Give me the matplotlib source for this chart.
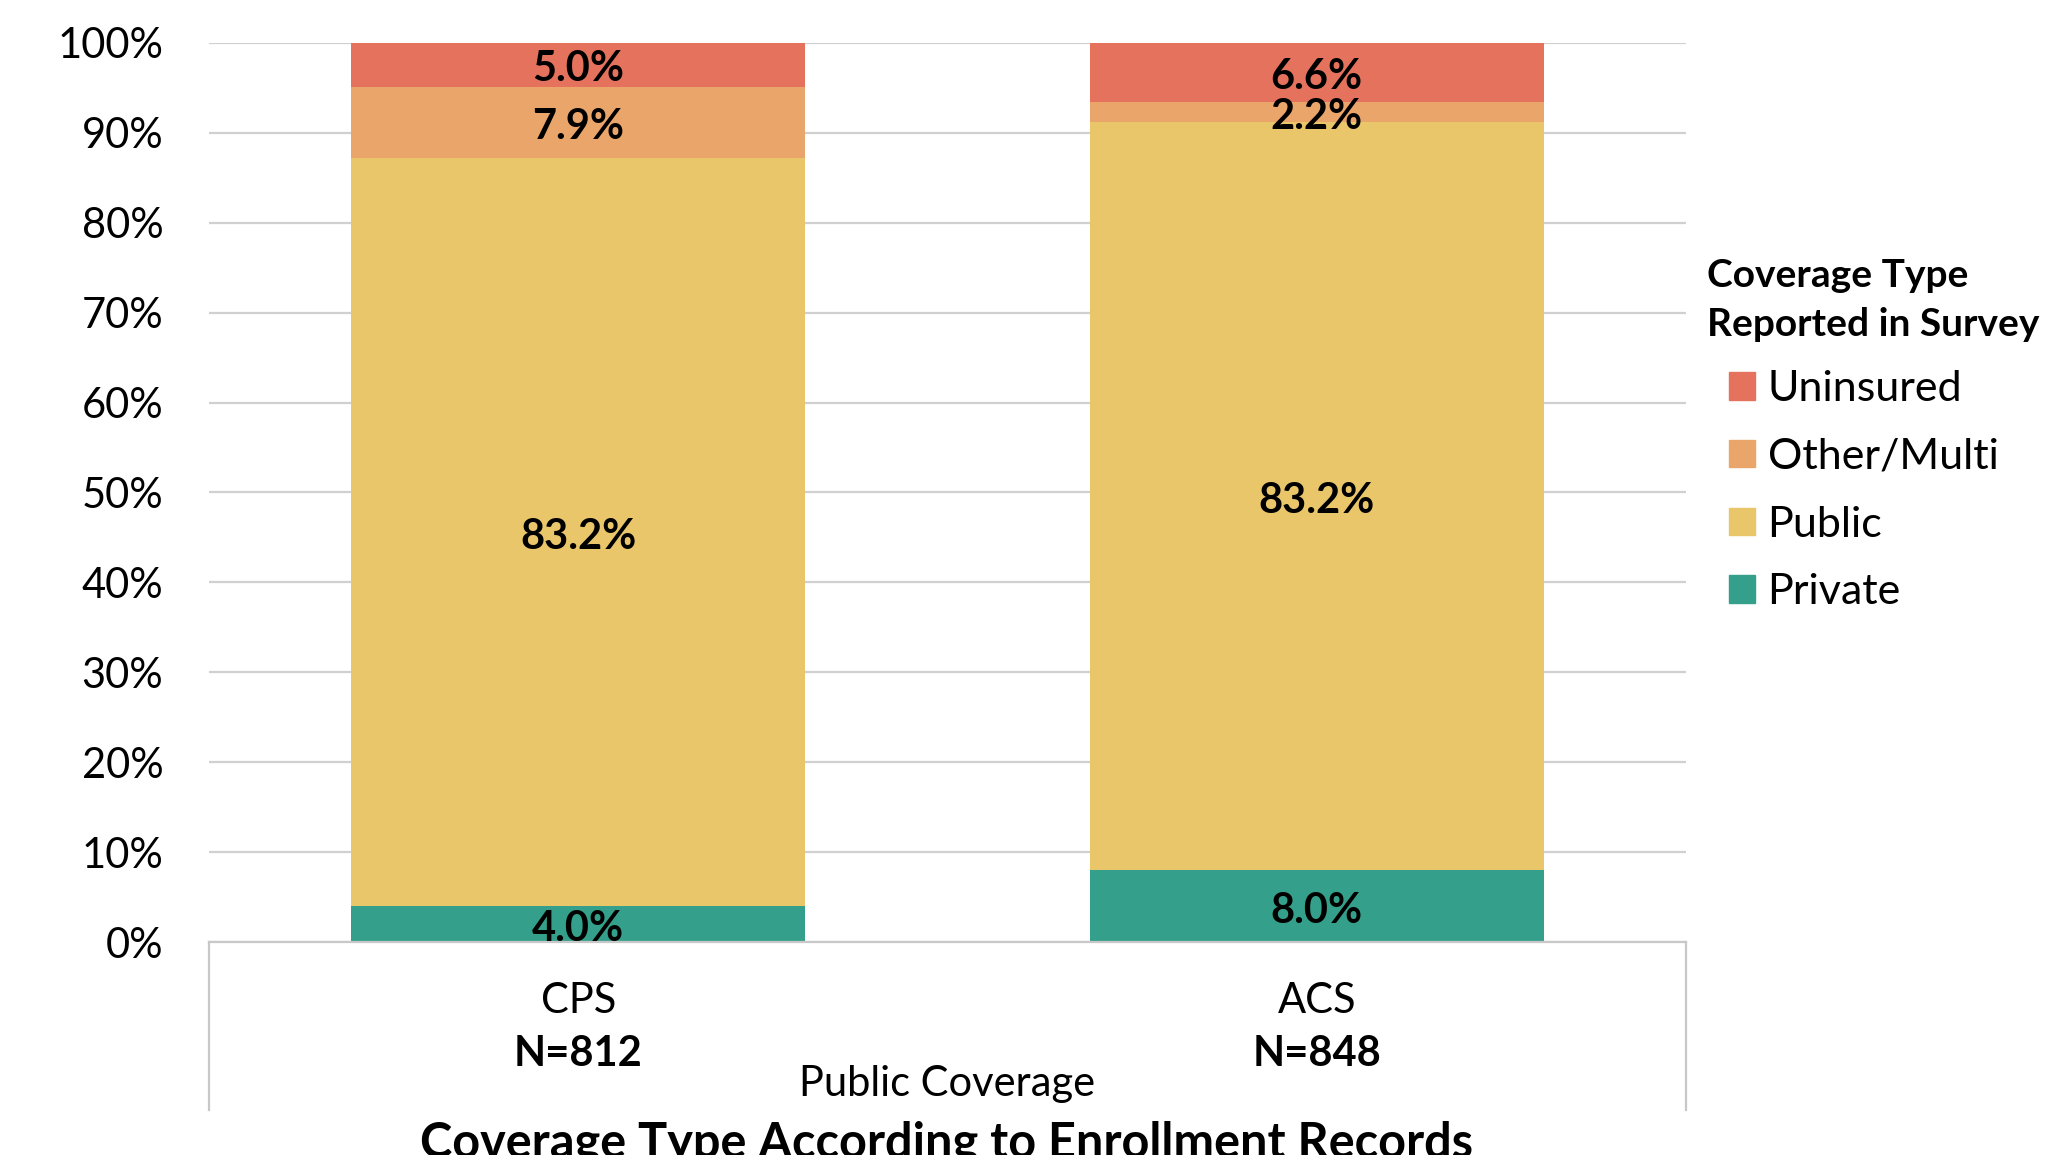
import numpy as np
import matplotlib
matplotlib.use('Agg')
import matplotlib.pyplot as plt
from matplotlib.ticker import PercentFormatter, MultipleLocator
from matplotlib.patches import Patch

plt.rcParams['font.family'] = ['Lato', 'DejaVu Sans']

# survey responses by record source (percent)
sources   = ['CPS', 'ACS']
n_labels  = ['N=812', 'N=848']
private   = [4.0, 8.0]
public    = [83.2, 83.2]
other     = [7.9, 2.2]
uninsured = [5.0, 6.6]

series = [('Private', private, '#34A08B'),
          ('Public', public, '#EAC66A'),
          ('Other/Multi', other, '#EAA56B'),
          ('Uninsured', uninsured, '#E5725D')]

fig = plt.figure(figsize=(20.46, 11.55), dpi=100)
ax = fig.add_axes([0.1022, 0.1844, 0.7218, 0.7784])

x = np.arange(len(sources))
bottom = np.zeros(len(sources))
handles = {}
for name, vals, col in series:
    vals = np.array(vals)
    ax.bar(x, vals, width=0.615, bottom=bottom, color=col, zorder=2)
    handles[name] = Patch(color=col)
    for xi, bt, v in zip(x, bottom, vals):
        ax.annotate('%.1f%%' % v, (xi, bt + v / 2), xytext=(0, -3.5),
                    textcoords='offset points', ha='center', va='center',
                    fontsize=30, fontweight='bold', zorder=3)
    bottom += vals

ax.set_xlim(-0.5, 1.5)
ax.set_ylim(0, 100)
ax.yaxis.set_major_locator(MultipleLocator(10))
ax.yaxis.set_major_formatter(PercentFormatter(xmax=100, decimals=0))
ax.tick_params(axis='y', length=0, pad=33, labelsize=30)
ax.set_xticks([])
ax.grid(axis='y', color='#D0D0D0', lw=1.6, zorder=0)
ax.set_axisbelow(True)
for s in ['left', 'right', 'top']:
    ax.spines[s].set_visible(False)
ax.spines['bottom'].set_color('#C8C8C8')
ax.spines['bottom'].set_linewidth(1.6)

# two-level category axis
for xi, src, nl in zip(x, sources, n_labels):
    ax.text(xi, -0.066, src, transform=ax.get_xaxis_transform(),
            ha='center', va='center', fontsize=30)
    ax.text(xi, -0.1245, nl, transform=ax.get_xaxis_transform(),
            ha='center', va='center', fontsize=30, fontweight='bold')
ax.text(0.5, -0.158, 'Public Coverage', transform=ax.transAxes,
        ha='center', va='center', fontsize=30)
for xe in [0, 1]:
    ax.plot([xe, xe], [0, -0.187], transform=ax.transAxes, clip_on=False,
            color='#C8C8C8', lw=1.6)

fig.text(0.4625, 0.010, 'Coverage Type According to Enrollment Records',
         ha='center', va='center', fontsize=35, fontweight='bold')

# legend
fig.text(0.8343, 0.740, 'Coverage Type\nReported in Survey', ha='left',
         va='center', fontsize=28, fontweight='bold', linespacing=1.47)
order = ['Uninsured', 'Other/Multi', 'Public', 'Private']
fig.legend([handles[k] for k in order], order, loc='upper left',
           bbox_to_anchor=(0.845, 0.6795), frameon=False, fontsize=31,
           handlelength=0.6, handleheight=0.6, handletextpad=0.3,
           labelspacing=0.69, borderpad=0, borderaxespad=0)

plt.savefig('out.png', dpi=100)
